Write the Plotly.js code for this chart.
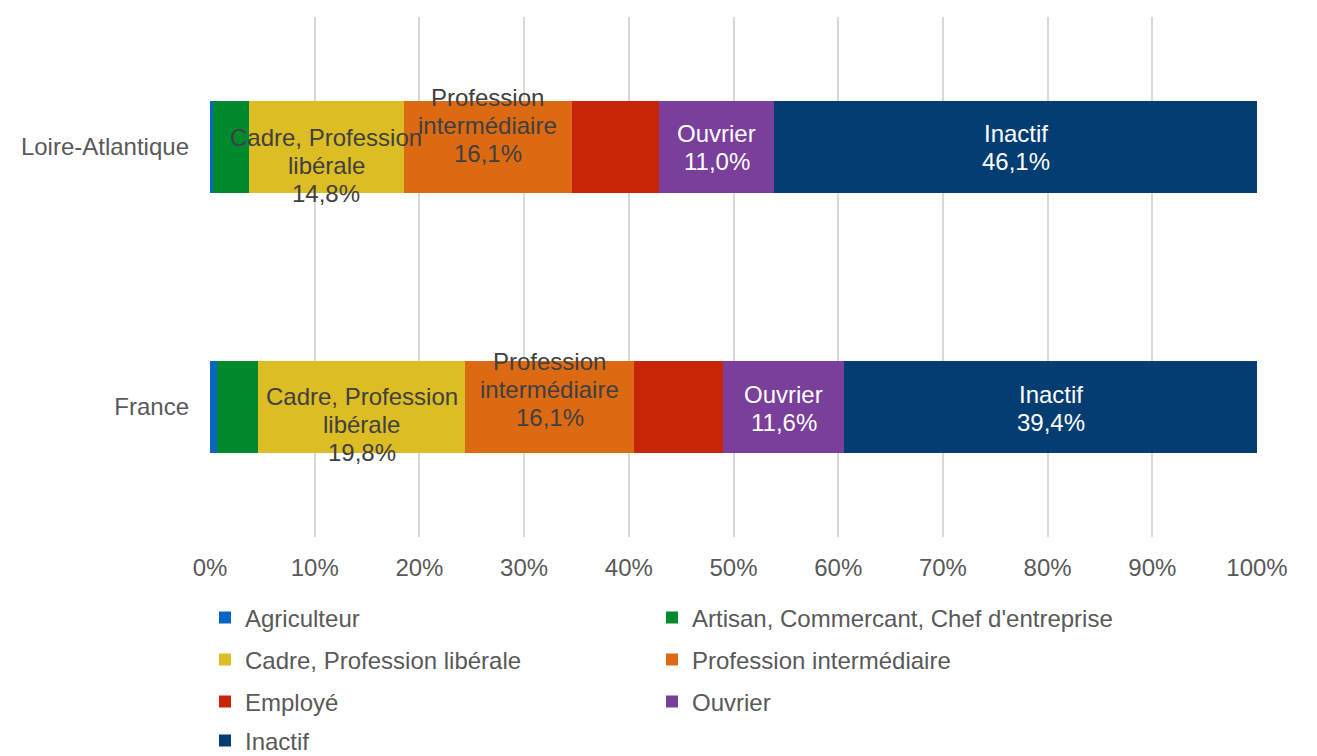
<!DOCTYPE html>
<html>
<head>
<meta charset="utf-8">
<script src="https://cdn.plot.ly/plotly-3.0.1.min.js"></script>
<style>html,body{margin:0;padding:0;background:#fff;}#chart{width:1317px;height:756px;}</style>
</head>
<body>
<div id="chart"></div>
<script>
// ---- data ----
const categories = ['Loire-Atlantique', 'France'];
const seriesNames = ['Agriculteur', 'Artisan, Commercant, Chef d\'entreprise', 'Cadre, Profession libérale',
  'Profession intermédiaire', 'Employé', 'Ouvrier', 'Inactif'];
const agriculteur = [0.3, 0.7];
const artisan = [3.4, 3.9];
const cadre = [14.8, 19.8];
const professionInter = [16.1, 16.1];
const employe = [8.3, 8.5];
const ouvrier = [11.0, 11.6];
const inactif = [46.1, 39.4];
const xTickValues = [0, 10, 20, 30, 40, 50, 60, 70, 80, 90, 100];
const xTickLabels = ['0%', '10%', '20%', '30%', '40%', '50%', '60%', '70%', '80%', '90%', '100%'];
const labelLines = [null, null, ['Cadre, Profession', 'libérale'], ['Profession', 'intermédiaire'], null, ['Ouvrier'], ['Inactif']];

// ---- styles ----
const values = [agriculteur, artisan, cadre, professionInter, employe, ouvrier, inactif];
const colors = ['#0a64c4', '#008a2e', '#dcbd23', '#dc6a12', '#c82508', '#7a3e9b', '#033d72'];
const labelColors = [null, null, '#404040', '#404040', null, '#ffffff', '#ffffff'];
const labelShift = [null, null, [18, 17], [-22, -18], null, [0, 1], [0, 1]];
const FONT = 'Liberation Sans, Arial, sans-serif';
const GREY = '#595959';
const W = 1317, HT = 756;
// legend grid: column pixel x (symbol area start) and row pixel y (text centre)
const legendColX = [205, 652];
const legendRowY = [618, 660, 702, 741];

const legendId = s => (s === 0 ? 'legend' : 'legend' + (s + 1));

const traces = values.map((v, s) => ({
  type: 'bar', orientation: 'h', name: seriesNames[s],
  y: categories, x: v,
  marker: {color: colors[s], line: {width: 0}},
  legend: legendId(s),
  hovertemplate: '%{y}: %{x:.1f}%<extra>' + seriesNames[s] + '</extra>'
}));

const annotations = [];
const LINE_H = 28;
categories.forEach((cat, c) => {
  let start = 0;
  values.forEach((v, s) => {
    const val = v[c];
    if (labelLines[s]) {
      const lines = labelLines[s].concat([val.toFixed(1).replace('.', ',') + '%']);
      const n = lines.length;
      lines.forEach((ln, i) => {
        annotations.push({
          x: start + val / 2, y: cat, xref: 'x', yref: 'y',
          text: ln, showarrow: false,
          font: {family: FONT, size: 24, color: labelColors[s]},
          yshift: -((i - (n - 1) / 2) * LINE_H + labelShift[s][c])
        });
      });
    }
    start += val;
  });
});

const layout = {
  width: W, height: HT,
  margin: {l: 210, r: 60, t: 17, b: 219, autoexpand: false},
  paper_bgcolor: '#ffffff', plot_bgcolor: '#ffffff',
  barmode: 'stack', bargap: 0.645,
  font: {family: FONT, size: 24, color: GREY},
  showlegend: true,
  xaxis: {
    range: [0, 100], tickmode: 'array', tickvals: xTickValues, ticktext: xTickLabels,
    showgrid: true, gridcolor: '#d9d9d9', gridwidth: 2,
    zeroline: false, showline: false, ticks: '',
    tickfont: {family: FONT, size: 24, color: GREY},
    ticklabelstandoff: 14, fixedrange: true
  },
  yaxis: {
    type: 'category', categoryorder: 'array', categoryarray: categories,
    range: [1.5, -0.5], showgrid: false, zeroline: false, showline: false, ticks: '',
    tickfont: {family: FONT, size: 24, color: GREY},
    ticklabelstandoff: 20, fixedrange: true
  },
  annotations: annotations
};

seriesNames.forEach((nm, s) => {
  layout[legendId(s)] = {
    orientation: 'h', xanchor: 'left', yanchor: 'middle', xref: 'container', yref: 'container',
    x: legendColX[s % 2] / W, y: 1 - legendRowY[Math.floor(s / 2)] / HT,
    bgcolor: 'rgba(0,0,0,0)',
    font: {family: FONT, size: 24, color: GREY}, itemclick: false, itemdoubleclick: false
  };
});

Plotly.newPlot('chart', traces, layout, {displayModeBar: false});
</script>
</body>
</html>
